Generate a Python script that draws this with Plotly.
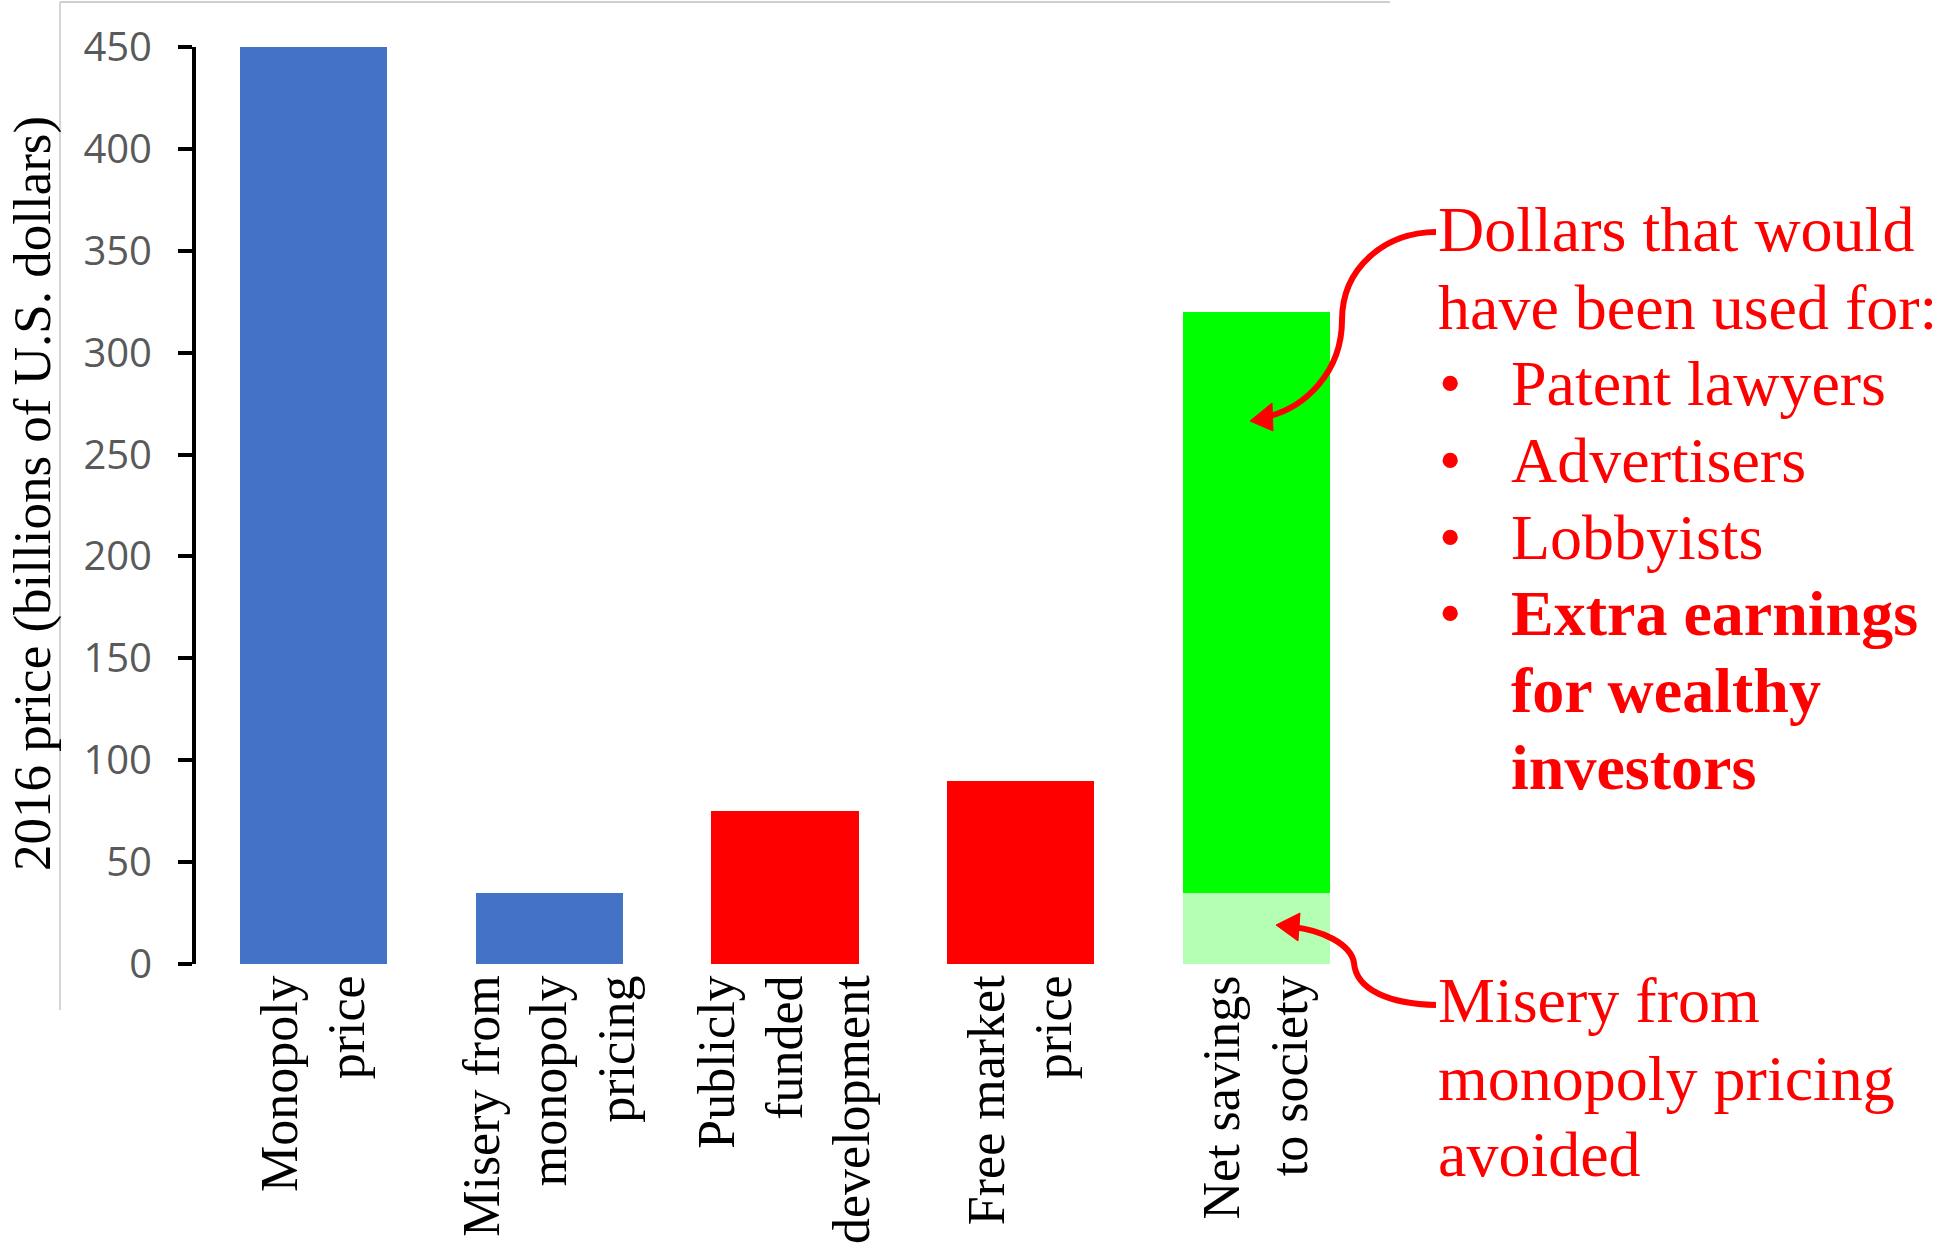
import plotly.graph_objects as go

# --- data (billions of 2016 U.S. dollars) ---
categories = [
    "Monopoly<br>price",
    "Misery from<br>monopoly<br>pricing",
    "Publicly<br>funded<br>development",
    "Free market<br>price",
    "Net savings<br>to society",
]
cost_values = [450, 35, 75, 90]
cost_colors = ["#4472C4", "#4472C4", "#FF0000", "#FF0000"]
net_savings_total = 320
misery_avoided = 35
y_ticks = [0, 50, 100, 150, 200, 250, 300, 350, 400, 450]

# (bullet, indented, text)
top_note_lines = [
    ("", False, "Dollars that would"),
    ("", False, "have been used for:"),
    ("•", True, "Patent lawyers"),
    ("•", True, "Advertisers"),
    ("•", True, "Lobbyists"),
    ("•", True, "<b>Extra earnings</b>"),
    ("", True, "<b>for wealthy</b>"),
    ("", True, "<b>investors</b>"),
]
bottom_note_lines = ["Misery from", "monopoly pricing", "avoided"]

# --- page geometry (pixels) ---
W, H = 1939, 1254
L, R, T, B = 196, 1374, 47, 964
PW, PH = R - L, B - T


def fx(px):
    return (px - L) / PW


def fy(py):
    return (B - py) / PH


SERIF = "Liberation Serif, Times New Roman, serif"
RED = "#FF0000"
NOTE_SIZE = 64

fig = go.Figure()

fig.add_trace(go.Bar(
    x=categories[:4], y=cost_values,
    marker=dict(color=cost_colors, line=dict(width=0)),
    showlegend=False, hoverinfo="x+y",
))
fig.add_trace(go.Bar(
    x=[categories[4]], y=[misery_avoided],
    marker=dict(color="#B4FFB4", line=dict(width=0)),
    showlegend=False,
))
fig.add_trace(go.Bar(
    x=[categories[4]], y=[net_savings_total - misery_avoided],
    marker=dict(color="#00FF00", line=dict(width=0)),
    showlegend=False,
))

annotations = []

# y-axis title
annotations.append(dict(
    text="2016 price (billions of U.S. dollars)",
    x=fx(32), y=fy(494), xref="paper", yref="paper",
    xanchor="center", yanchor="middle", textangle=-90, showarrow=False,
    font=dict(family=SERIF, size=53, color="black"),
))

# right-hand notes, one line each
top_centers = [230, 307, 383, 460, 537, 613, 690, 767]
for (bullet, indented, text), cy in zip(top_note_lines, top_centers):
    if bullet:
        annotations.append(dict(
            text=bullet, x=fx(1437), y=fy(cy), xref="paper", yref="paper",
            xanchor="left", yanchor="middle", showarrow=False,
            font=dict(family=SERIF, size=NOTE_SIZE, color=RED),
        ))
    tx = 1509 if indented else 1436
    annotations.append(dict(
        text=text, x=fx(tx), y=fy(cy), xref="paper", yref="paper",
        xanchor="left", yanchor="middle", showarrow=False,
        font=dict(family=SERIF, size=NOTE_SIZE, color=RED),
    ))

bottom_centers = [1001, 1078, 1154]
for text, cy in zip(bottom_note_lines, bottom_centers):
    annotations.append(dict(
        text=text, x=fx(1436), y=fy(cy), xref="paper", yref="paper",
        xanchor="left", yanchor="middle", showarrow=False,
        font=dict(family=SERIF, size=NOTE_SIZE, color=RED),
    ))


def path(points_cmds):
    out = []
    for cmd, pts in points_cmds:
        coords = " ".join(f"{fx(x):.5f},{fy(y):.5f}" for x, y in pts)
        out.append(f"{cmd} {coords}")
    return " ".join(out)


shapes = []
# chart-area frame (left and top edges)
frame = dict(type="line", xref="paper", yref="paper",
             line=dict(color="#BFBFBF", width=1.3), layer="below")
shapes.append(dict(frame, x0=fx(60), x1=fx(60), y0=fy(2), y1=fy(1010)))
shapes.append(dict(frame, x0=fx(60), x1=fx(1390), y0=fy(2), y1=fy(2)))

# curved callout arrows
curve_top = path([
    ("M", [(1436, 232)]),
    ("C", [(1385, 232), (1342, 268), (1342, 320)]),
    ("C", [(1342, 372), (1305, 408), (1266, 417)]),
])
head_top = path([
    ("M", [(1250, 421)]),
    ("L", [(1272, 403)]),
    ("L", [(1273, 431)]),
]) + " Z"
curve_bot = path([
    ("M", [(1436, 1005)]),
    ("C", [(1390, 1004), (1356, 990), (1354, 963)]),
    ("C", [(1351, 944), (1322, 930), (1292, 927)]),
])
head_bot = path([
    ("M", [(1276, 925)]),
    ("L", [(1300, 913)]),
    ("L", [(1298, 941)]),
]) + " Z"
for p in (curve_top, curve_bot):
    shapes.append(dict(type="path", path=p, xref="paper", yref="paper",
                       line=dict(color=RED, width=6)))
for p in (head_top, head_bot):
    shapes.append(dict(type="path", path=p, xref="paper", yref="paper",
                       fillcolor=RED, line=dict(color=RED, width=1)))

fig.update_layout(
    width=W, height=H,
    margin=dict(l=L, r=W - R, t=T, b=H - B, pad=0),
    paper_bgcolor="white", plot_bgcolor="white",
    barmode="stack", bargap=0.376,
    annotations=annotations, shapes=shapes,
    xaxis=dict(
        type="category", categoryorder="array", categoryarray=categories,
        range=[-0.5, 4.5], showline=False, showgrid=False, zeroline=False,
        ticks="", tickangle=-90, automargin=False,
        tickfont=dict(family=SERIF, size=52, color="black"),
    ),
    yaxis=dict(
        range=[0, 450], tickvals=y_ticks, showgrid=False, zeroline=False,
        showline=True, linecolor="black", linewidth=4,
        ticks="outside", ticklen=14, tickwidth=4, tickcolor="black",
        tickfont=dict(family="Open Sans, sans-serif", size=40, color="#595959"),
        ticklabelstandoff=18, automargin=False,
    ),
)

fig.write_html("out.html")
